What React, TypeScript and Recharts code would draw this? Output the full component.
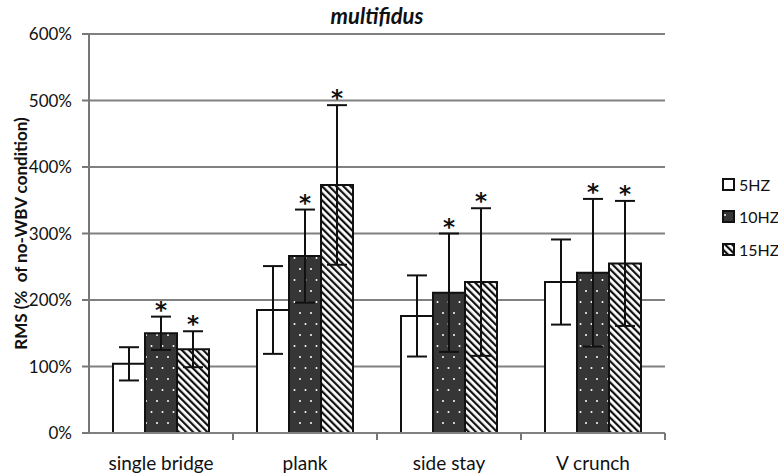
import {
  BarChart,
  Bar,
  XAxis,
  YAxis,
  CartesianGrid,
  ErrorBar,
  LabelList,
} from "recharts";

const categories = ["single bridge", "plank", "side stay", "V crunch"];
const hz5 = [104, 185, 176, 227];
const hz5Err = [25, 66, 61, 64];
const hz10 = [150, 266, 211, 241];
const hz10Err = [25, 70, 89, 111];
const hz15 = [126, 373, 227, 255];
const hz15Err = [27, 120, 111, 94];
const sig5 = [false, false, false, false];
const sig10 = [true, true, true, true];
const sig15 = [true, true, true, true];
const yTicks = [0, 100, 200, 300, 400, 500, 600];

const data = categories.map((name, i) => ({
  name,
  hz5: hz5[i],
  hz5Err: hz5Err[i],
  hz10: hz10[i],
  hz10Err: hz10Err[i],
  hz15: hz15[i],
  hz15Err: hz15Err[i],
}));

const FONT = "Lato, 'Open Sans', sans-serif";

const series = [
  { key: "hz5", err: "hz5Err", label: "5HZ", fill: "#ffffff", sig: sig5, errs: hz5Err },
  { key: "hz10", err: "hz10Err", label: "10HZ", fill: "url(#dots)", sig: sig10, errs: hz10Err },
  { key: "hz15", err: "hz15Err", label: "15HZ", fill: "url(#stripes)", sig: sig15, errs: hz15Err },
];

// star sits above the top cap of the error bar
const starLabel = (sig: boolean[], errs: number[]) => (props: any) => {
  const { x, y, width, height, value, index } = props;
  if (!sig[index]) return null;
  const pxPerUnit = height / value;
  const capY = y - errs[index] * pxPerUnit;
  return (
    <text
      x={x + width / 2}
      y={capY + 1}
      textAnchor="middle"
      fontSize={23}
      fontWeight="bold"
      fontFamily="'DejaVu Sans', sans-serif"
      fill="#111"
      stroke="none"
    >
      *
    </text>
  );
};

const CategoryTick = (props: any) => {
  const { x, y, payload } = props;
  const half = payload.offset || 72;
  return (
    <g>
      <line x1={x + half} y1={y - 8} x2={x + half} y2={y - 1} stroke="#777" strokeWidth={2} />
      <text x={x} y={y + 29} textAnchor="middle" fontSize={19} fontFamily={FONT} fill="#111">
        {payload.value}
      </text>
    </g>
  );
};

export default function App() {
  return (
    <div style={{ position: "absolute", left: 0, top: 0, width: 778, height: 474, background: "#fff" }}>
      <svg width={0} height={0} style={{ position: "absolute" }}>
        <defs>
          <pattern id="dots" width={11} height={22} patternUnits="userSpaceOnUse">
            <rect width={11} height={22} fill="#363636" />
            <circle cx={3} cy={5} r={1} fill="#ffffff" />
            <circle cx={8.5} cy={16} r={1} fill="#ffffff" />
          </pattern>
          <pattern
            id="stripes"
            width={5}
            height={5}
            patternUnits="userSpaceOnUse"
            patternTransform="rotate(-45)"
          >
            <rect width={5} height={5} fill="#ffffff" />
            <rect width={2.2} height={5} fill="#111" />
          </pattern>
        </defs>
      </svg>
      <div
        style={{
          position: "absolute",
          left: 89,
          width: 576,
          top: 3,
          textAlign: "center",
          fontFamily: FONT,
          fontSize: 22,
          fontWeight: "bold",
          fontStyle: "italic",
          color: "#111",
          lineHeight: "26px",
        }}
      >
        multifidus
      </div>
      <div
        style={{ position: "absolute", left: 722, top: 168, fontFamily: FONT, fontSize: 16, color: "#111" }}
      >
        {series.map((s) => (
          <div key={s.key} style={{ display: "flex", alignItems: "center", height: 32.5 }}>
            <svg width={13} height={13} style={{ marginRight: 4 }}>
              <rect x={1} y={1} width={11} height={11} fill={s.fill} stroke="#111" strokeWidth={2} />
            </svg>
            <span>{s.label}</span>
          </div>
        ))}
      </div>
      <BarChart
        width={778}
        height={474}
        data={data}
        margin={{ top: 34, right: 113, bottom: 11, left: 0 }}
        barCategoryGap={24}
        barGap={0}
      >
        <CartesianGrid vertical={false} stroke="#808080" strokeWidth={2} />
        <XAxis
          dataKey="name"
          height={30}
          tick={<CategoryTick />}
          tickLine={false}
          axisLine={{ stroke: "#808080", strokeWidth: 2 }}
        />
        <YAxis
          width={89}
          domain={[0, 600]}
          ticks={yTicks}
          tickFormatter={(v) => `${v}%`}
          tick={{ fill: "#111", fontSize: 17, fontFamily: FONT }}
          tickLine={{ stroke: "#777", strokeWidth: 2 }}
          tickSize={7}
          tickMargin={10}
          axisLine={{ stroke: "#777", strokeWidth: 2 }}
          label={(props: any) => {
            const vb = props.viewBox;
            const cy = vb.y + vb.height / 2;
            return (
              <text
                x={20}
                y={cy}
                transform={`rotate(-90, 20, ${cy})`}
                textAnchor="middle"
                dominantBaseline="central"
                fontSize={17}
                fontWeight="bold"
                fontFamily={FONT}
                fill="#111"
              >
                {"RMS (%\u00a0 of no-WBV condition)"}
              </text>
            );
          }}
        />
        {series.map((s) => (
          <Bar
            key={s.key}
            dataKey={s.key}
            name={s.label}
            fill={s.fill}
            stroke="#111"
            strokeWidth={2}
            isAnimationActive={false}
          >
            <ErrorBar dataKey={s.err} width={10} stroke="#111" strokeWidth={2} />
            <LabelList dataKey={s.key} content={starLabel(s.sig, s.errs)} />
          </Bar>
        ))}
      </BarChart>
    </div>
  );
}
